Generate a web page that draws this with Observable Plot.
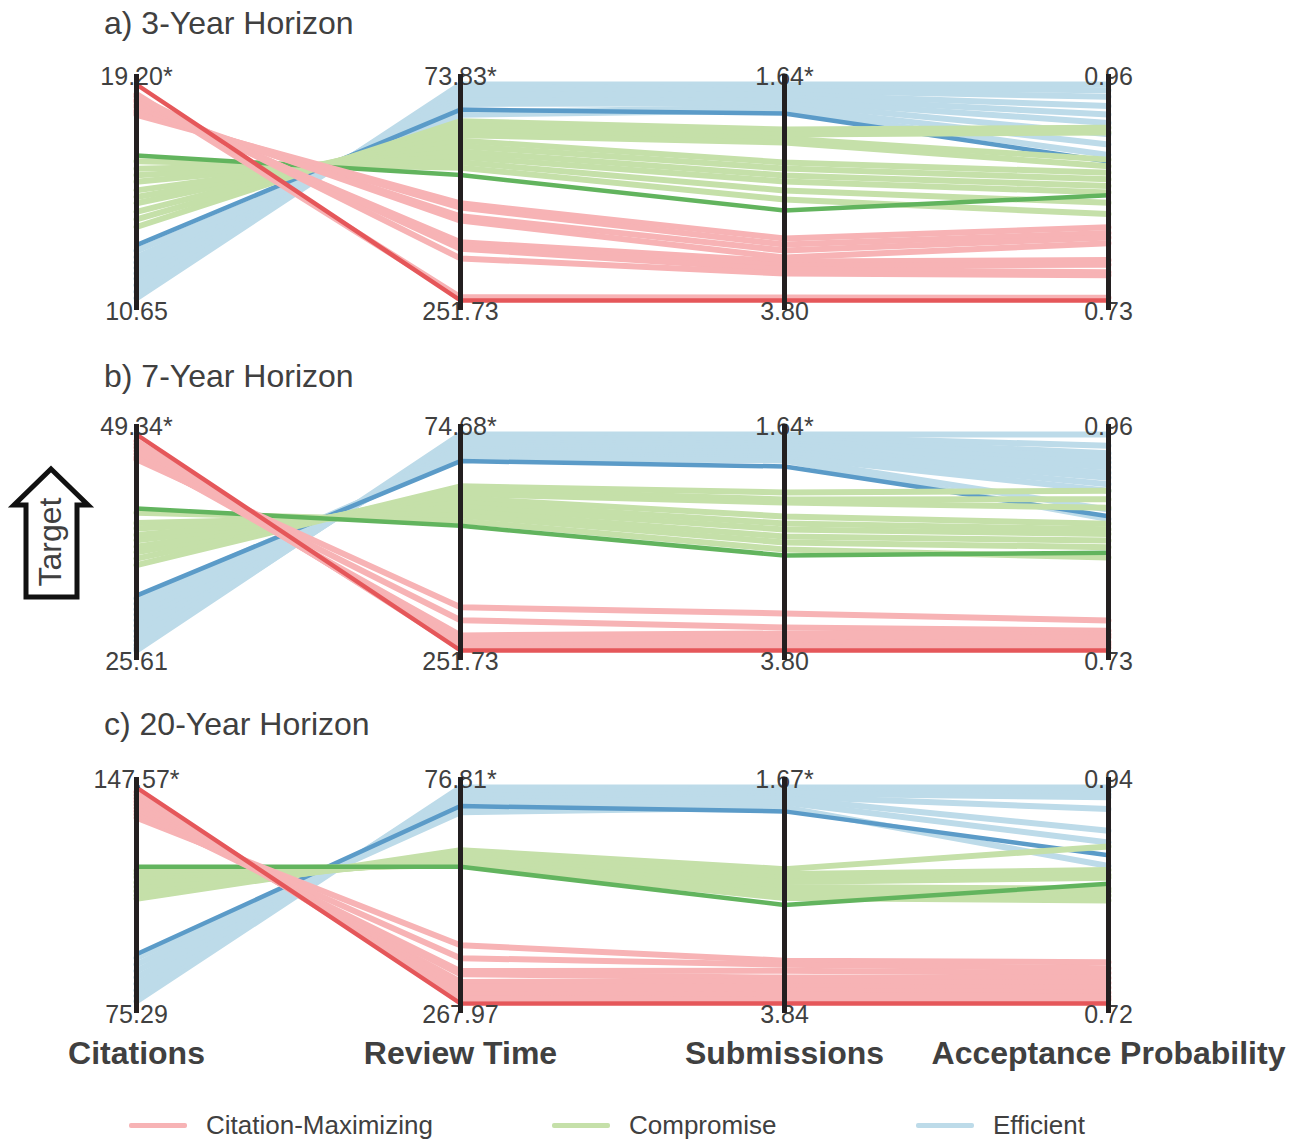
<!DOCTYPE html>
<html>
<head>
<meta charset="utf-8">
<script src="https://cdn.jsdelivr.net/npm/d3@7"></script>
<script src="https://cdn.jsdelivr.net/npm/@observablehq/plot@0.6"></script>
<style>
  html, body { margin: 0; padding: 0; background: #fff; }
  #root { position: relative; width: 1303px; height: 1139px; font-family: "Liberation Sans", Arial, sans-serif; color: #404040; }
  .panel { position: absolute; left: 0; }
  .title { position: absolute; left: 104px; font-size: 32px; line-height: 32px; white-space: nowrap; }
  .leg { position: absolute; top: 1110px; height: 30px; display: flex; align-items: center; font-size: 26px; white-space: nowrap; }
  .leg span.sw { display: inline-block; width: 58px; height: 5px; border-radius: 2px; margin-right: 19px; }
</style>
</head>
<body>
<div id="root"></div>
<script>
// ---------- categories & labels ----------
const axes = ["Citations", "Review Time", "Submissions", "Acceptance Probability"];
const groups = ["Citation-Maximizing", "Compromise", "Efficient"];
const horizons = ["a) 3-Year Horizon", "b) 7-Year Horizon", "c) 20-Year Horizon"];

// axis ends: bottom = worst, top = best
const bottom3 = [10.65, 251.73, 3.80, 0.73];
const top3 = [19.20, 73.83, 1.64, 0.96];
const bottom7 = [25.61, 251.73, 3.80, 0.73];
const top7 = [49.34, 74.68, 1.64, 0.96];
const bottom20 = [75.29, 267.97, 3.84, 0.72];
const top20 = [147.57, 76.81, 1.67, 0.94];

const topLabels3 = ["19.20*", "73.83*", "1.64*", "0.96"];
const bottomLabels3 = ["10.65", "251.73", "3.80", "0.73"];
const topLabels7 = ["49.34*", "74.68*", "1.64*", "0.96"];
const bottomLabels7 = ["25.61", "251.73", "3.80", "0.73"];
const topLabels20 = ["147.57*", "76.81*", "1.67*", "0.94"];
const bottomLabels20 = ["75.29", "267.97", "3.84", "0.72"];

// ---------- solutions: [Citations, Review Time, Submissions, Acceptance] ----------
// 3-year horizon
const h3CitMax = [
  [18.00, 171.67, 3.18, 0.808], [18.09, 175.23, 3.24, 0.802], [18.17, 182.35, 3.30, 0.797],
  [18.30, 185.91, 3.37, 0.791], [18.39, 203.70, 3.41, 0.773], [18.52, 206.37, 3.45, 0.768],
  [18.60, 209.03, 3.49, 0.760], [18.73, 217.04, 3.53, 0.757], [18.82, 249.06, 3.77, 0.733]
];
const h3Compromise = [
  [13.56, 104.07, 2.09, 0.914], [13.86, 107.63, 2.14, 0.909], [14.16, 111.19, 2.18, 0.880],
  [14.50, 115.64, 2.22, 0.873], [14.75, 120.08, 2.42, 0.866], [15.01, 124.53, 2.48, 0.859],
  [15.35, 128.98, 2.55, 0.852], [15.61, 133.43, 2.61, 0.845], [15.87, 137.87, 2.70, 0.834],
  [16.16, 142.32, 2.79, 0.822]
];
const h3Efficient = [
  [10.74, 73.83, 1.64, 0.960], [10.99, 76.50, 1.67, 0.954], [11.25, 79.17, 1.70, 0.947],
  [11.51, 81.84, 1.74, 0.937], [11.72, 84.50, 1.77, 0.928], [11.93, 87.17, 1.80, 0.919],
  [12.15, 89.84, 1.83, 0.907], [12.36, 96.96, 1.87, 0.896], [12.62, 98.74, 1.90, 0.885]
];
const h3Highlight = [[19.20, 251.73, 3.80, 0.730], [16.39, 148.37, 2.90, 0.842], [12.84, 94.47, 1.93, 0.878]];

// 7-year horizon
const h7CitMax = [
  [46.61, 216.32, 3.43, 0.762], [46.85, 226.94, 3.57, 0.751], [47.20, 239.34, 3.63, 0.747],
  [47.56, 243.76, 3.67, 0.744], [47.92, 246.42, 3.72, 0.739], [48.27, 248.19, 3.75, 0.736],
  [48.63, 249.96, 3.77, 0.733]
];
const h7Compromise = [
  [34.98, 117.17, 2.22, 0.900], [35.70, 119.83, 2.29, 0.891], [36.41, 123.37, 2.32, 0.882],
  [37.00, 126.91, 2.46, 0.865], [37.71, 130.45, 2.53, 0.859], [38.31, 133.99, 2.59, 0.854],
  [39.02, 137.53, 2.66, 0.847], [39.61, 141.07, 2.72, 0.840], [40.75, 145.50, 2.79, 0.829]
];
const h7Efficient = [
  [25.61, 74.68, 1.64, 0.960], [25.85, 76.45, 1.66, 0.948], [26.20, 78.22, 1.68, 0.940],
  [26.68, 79.99, 1.70, 0.935], [27.15, 81.76, 1.73, 0.930], [27.75, 83.53, 1.75, 0.925],
  [28.34, 85.30, 1.78, 0.919], [28.93, 87.07, 1.81, 0.914], [29.53, 88.84, 1.83, 0.907],
  [30.12, 90.61, 1.86, 0.900], [30.71, 92.38, 1.88, 0.880], [31.31, 94.16, 1.90, 0.870]
];
const h7Highlight = [[49.34, 251.73, 3.80, 0.730], [41.22, 149.57, 2.85, 0.834], [31.64, 96.46, 1.96, 0.873]];

// 20-year horizon
const h20CitMax = [
  [137.45, 216.36, 3.41, 0.762], [138.54, 227.83, 3.45, 0.756], [139.62, 239.30, 3.51, 0.751],
  [140.70, 242.16, 3.58, 0.746], [141.79, 248.85, 3.62, 0.741], [142.87, 252.68, 3.67, 0.736],
  [143.96, 256.50, 3.71, 0.731], [145.04, 260.32, 3.75, 0.727], [146.12, 263.19, 3.80, 0.724]
];
const h20Compromise = [
  [110.35, 132.25, 2.49, 0.880], [111.43, 135.11, 2.54, 0.856], [112.88, 137.98, 2.58, 0.851],
  [114.32, 139.89, 2.62, 0.848], [115.77, 141.80, 2.67, 0.837], [117.57, 143.72, 2.71, 0.834],
  [118.66, 144.67, 2.75, 0.830], [119.74, 145.63, 2.78, 0.825]
];
const h20Efficient = [
  [76.01, 76.81, 1.67, 0.940], [77.82, 78.72, 1.69, 0.937], [79.63, 81.59, 1.71, 0.933],
  [81.80, 84.46, 1.73, 0.930], [83.96, 87.32, 1.76, 0.918], [86.13, 90.19, 1.78, 0.896],
  [88.30, 94.97, 1.82, 0.884], [90.47, 98.79, 1.87, 0.860]
];
const h20Highlight = [[147.57, 267.97, 3.84, 0.720], [121.04, 146.97, 2.85, 0.842], [91.77, 93.25, 1.91, 0.871]];

// ---------- styling ----------
const lightColors = ["#f7b3b5", "#c5e0a9", "#bddbe9"];
const darkColors = ["#e5575a", "#62b45e", "#5b9bc8"];
const textColor = "#404040";
const fontFamily = '"Liberation Sans", Arial, sans-serif';

const panels = [
  {title: horizons[0], lines: [h3CitMax, h3Compromise, h3Efficient], best: h3Highlight, bottom: bottom3, top: top3, topL: topLabels3, botL: bottomLabels3, svgTop: 44, titleTop: 7, last: false},
  {title: horizons[1], lines: [h7CitMax, h7Compromise, h7Efficient], best: h7Highlight, bottom: bottom7, top: top7, topL: topLabels7, botL: bottomLabels7, svgTop: 394, titleTop: 360, last: false},
  {title: horizons[2], lines: [h20CitMax, h20Compromise, h20Efficient], best: h20Highlight, bottom: bottom20, top: top20, topL: topLabels20, botL: bottomLabels20, svgTop: 747, titleTop: 708, last: true}
];

const root = document.getElementById("root");
const drawOrder = [2, 1, 0]; // Efficient, Compromise, Citation-Maximizing

for (const p of panels) {
  const norm = (v, ai) => (v - p.bottom[ai]) / (p.top[ai] - p.bottom[ai]);
  const marks = [];
  for (const gi of drawOrder) {
    const light = [];
    p.lines[gi].forEach((r, li) => axes.forEach((a, ai) =>
      light.push({id: groups[gi] + li, axis: a, t: norm(r[ai], ai), color: lightColors[gi]})));
    marks.push(Plot.line(light, {x: "axis", y: "t", z: "id", stroke: "color", strokeWidth: 6, strokeLinejoin: "round"}));
    const dark = axes.map((a, ai) => ({axis: a, t: norm(p.best[gi][ai], ai), color: darkColors[gi]}));
    marks.push(Plot.line(dark, {x: "axis", y: "t", stroke: "color", strokeWidth: 4.5, strokeLinejoin: "round"}));
  }
  const labels = axes.map((a, i) => ({axis: a, top: p.topL[i], bottom: p.botL[i]}));
  marks.push(Plot.text(labels, {x: "axis", text: "top", frameAnchor: "top", lineAnchor: "middle", dy: -8, fontSize: 25, fill: textColor}));
  marks.push(Plot.text(labels, {x: "axis", text: "bottom", frameAnchor: "bottom", lineAnchor: "middle", dy: 11, fontSize: 25, fill: textColor}));
  marks.push(Plot.ruleX(axes, {x: d => d, stroke: "#231f20", strokeWidth: 5, insetTop: -10, insetBottom: -10}));
  if (p.last) {
    marks.push(Plot.text(axes, {x: d => d, text: d => d, frameAnchor: "bottom", lineAnchor: "middle", dy: 50, fontSize: 32, fontWeight: "bold", fill: textColor}));
  }
  const chart = Plot.plot({
    width: 1303,
    height: p.last ? 336 : 286,
    marginLeft: 135, marginRight: 195, marginTop: 40, marginBottom: p.last ? 80 : 30,
    x: {type: "point", domain: axes, padding: 0, axis: null},
    y: {domain: [0, 1], axis: null},
    color: {type: "identity"},
    style: {fontFamily, overflow: "visible", background: "transparent"},
    marks
  });
  chart.classList.add("panel");
  chart.style.top = p.svgTop + "px";
  root.appendChild(chart);
  const t = document.createElement("div");
  t.className = "title";
  t.style.top = p.titleTop + "px";
  t.textContent = p.title;
  root.appendChild(t);
}

// Target arrow (decoration beside the middle panel)
const ns = "http://www.w3.org/2000/svg";
const arrow = document.createElementNS(ns, "svg");
arrow.setAttribute("width", "110");
arrow.setAttribute("height", "1139");
arrow.style.position = "absolute";
arrow.style.left = "0px";
arrow.style.top = "0px";
arrow.innerHTML = `<path d="M51,469 L88,505 L77,505 L77,597 L26,597 L26,505 L14,505 Z" fill="#fff" stroke="#111" stroke-width="5" stroke-linejoin="miter"/>
<text transform="translate(50,542) rotate(-90)" text-anchor="middle" dominant-baseline="central" font-size="32" fill="${textColor}" font-family='${fontFamily}'>Target</text>`;
root.appendChild(arrow);

// Legend
const legendLeft = [129, 552, 916];
groups.forEach((g, i) => {
  const d = document.createElement("div");
  d.className = "leg";
  d.style.left = legendLeft[i] + "px";
  d.innerHTML = `<span class="sw" style="background:${lightColors[i]}"></span><span>${g}</span>`;
  root.appendChild(d);
});
</script>
</body>
</html>
